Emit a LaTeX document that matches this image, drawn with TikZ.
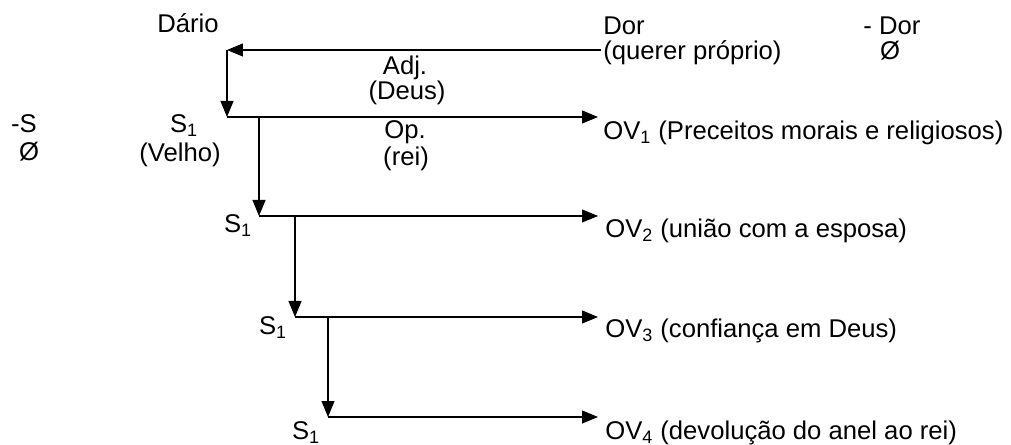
\documentclass[tikz,border=0pt]{standalone}
\usepackage{fontspec}
\setmainfont{Liberation Sans}
\usetikzlibrary{arrows.meta}

\begin{document}
\begin{tikzpicture}[x=0.02cm,y=-0.02cm,
  txt/.style={inner sep=0pt,font=\fontsize{14.6}{17}\selectfont},
  arr/.style={line width=0.6pt,-{Triangle[length=0.32cm,width=0.26cm]}}]
  \useasboundingbox (0,0) rectangle (1011,445);
  % actantes
  \node[txt,anchor=base] (dario) at (188,33) {Dário};
  \node[txt,anchor=base] (adj) at (405,75) {Adj.};
  \node[txt,anchor=base] (deus) at (407,100) {(Deus)};
  \node[txt,anchor=base] (negs) at (24,133) {-S};
  \node[txt,anchor=base] (negsvoid) at (29,161) {Ø};
  \node[txt,anchor=base] (sujeito) at (184,133) {S\textsubscript{1}};
  \node[txt,anchor=base] (velho) at (180,162) {(Velho)};
  \node[txt,anchor=base] (op) at (405,139) {Op.};
  \node[txt,anchor=base] (rei) at (406,166) {(rei)};
  \node[txt,anchor=base west] (dor) at (603,35) {Dor};
  \node[txt,anchor=base west] (querer) at (603,60) {(querer próprio)};
  \node[txt,anchor=base west] (negdor) at (863,35) {- Dor};
  \node[txt,anchor=base] (negdorvoid) at (890,60) {Ø};
  \node[txt,anchor=base west] (ov1) at (603,140) {OV\textsubscript{1} (Preceitos morais e religiosos)};
  \node[txt,anchor=base] (s2) at (238,233) {S\textsubscript{1}};
  \node[txt,anchor=base west] (ov2) at (605,238) {OV\textsubscript{2} (união com a esposa)};
  \node[txt,anchor=base] (s3) at (273,335) {S\textsubscript{1}};
  \node[txt,anchor=base west] (ov3) at (605,338) {OV\textsubscript{3} (confiança em Deus)};
  \node[txt,anchor=base] (s4) at (306,440) {S\textsubscript{1}};
  \node[txt,anchor=base west] (ov4) at (605,440) {OV\textsubscript{4} (devolução do anel ao rei)};
  % cantos
  \coordinate (t0) at (601,50);
  \coordinate (t1) at (227,50);
  \coordinate (k1) at (227,117);
  \coordinate (a1) at (598,117);
  \coordinate (v2) at (259,117);
  \coordinate (k2) at (259,216);
  \coordinate (a2) at (598,216);
  \coordinate (v3) at (295,216);
  \coordinate (k3) at (295,317);
  \coordinate (a3) at (598,317);
  \coordinate (v4) at (328,317);
  \coordinate (k4) at (328,417);
  \coordinate (a4) at (598,417);
  \draw[arr] (t0) -- (t1);
  \draw[arr] (t1) -- (k1);
  \draw[arr] (k1) -- (a1);
  \draw[arr] (v2) -- (k2);
  \draw[arr] (k2) -- (a2);
  \draw[arr] (v3) -- (k3);
  \draw[arr] (k3) -- (a3);
  \draw[arr] (v4) -- (k4);
  \draw[arr] (k4) -- (a4);
\end{tikzpicture}
\end{document}
